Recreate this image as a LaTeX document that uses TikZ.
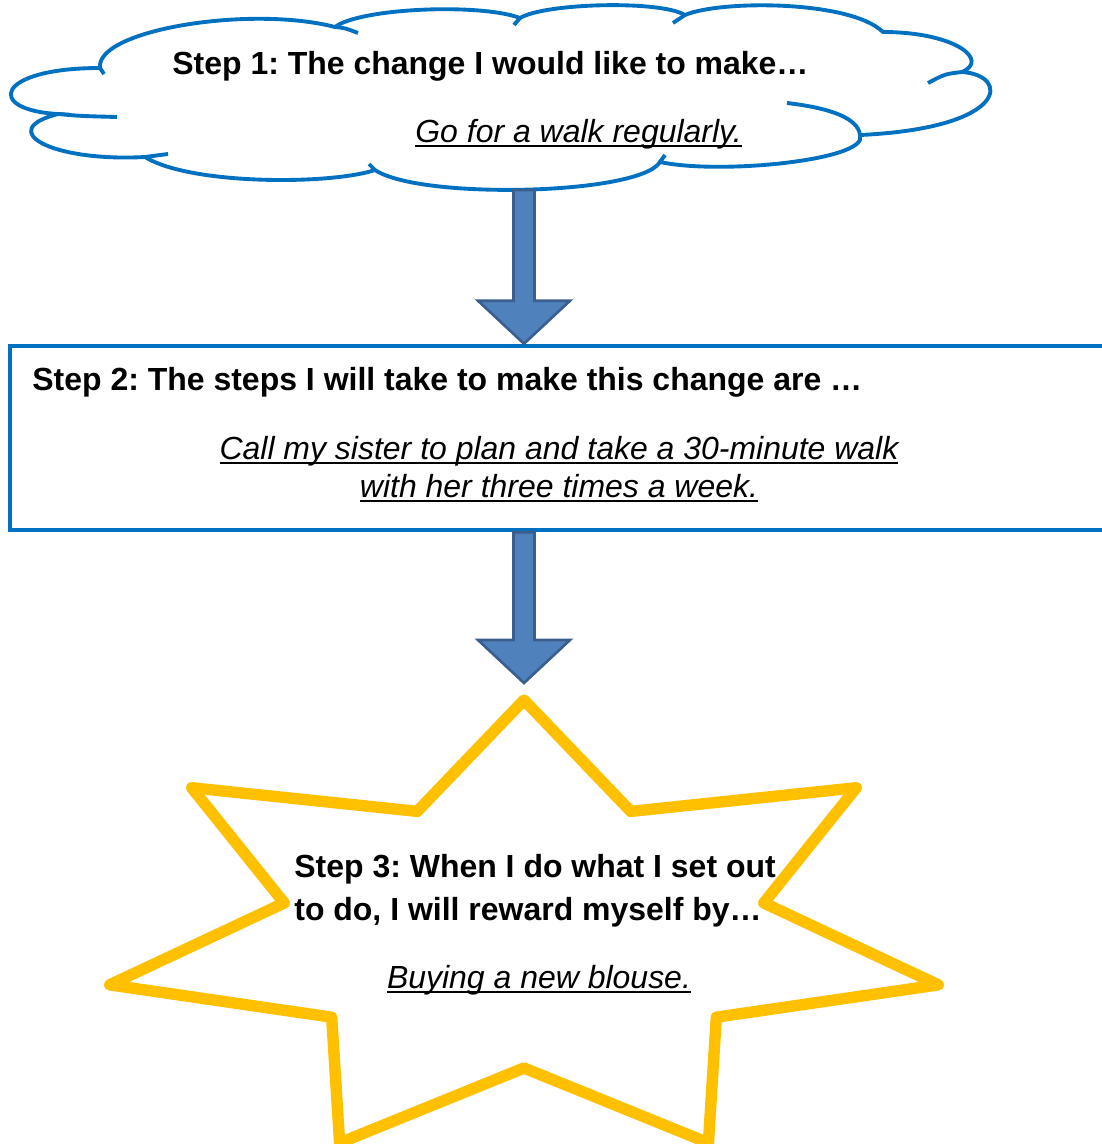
\documentclass[tikz,border=0pt]{standalone}
\usepackage{fontspec}
\setmainfont{Liberation Sans}
\usetikzlibrary{calc}
\definecolor{bluebox}{HTML}{0070C0}
\definecolor{arrowfill}{HTML}{4F81BD}
\definecolor{arrowline}{HTML}{3A5F8E}
\definecolor{stargold}{HTML}{FFC000}
\newcommand{\uword}[1]{\setbox0=\hbox{#1}\leavevmode\rlap{\rule[-2.6pt]{\wd0}{1.1pt}}\box0}
\frenchspacing

\begin{document}
\begin{tikzpicture}[x=0.02cm, y=-0.02cm,
  title/.style={font=\bfseries\fontsize{18.2}{24}\selectfont, inner sep=0, anchor=base west},
  answer/.style={font=\itshape\fontsize{18.2}{21.5}\selectfont, inner sep=0, align=center, anchor=base},
  cloudline/.style={draw=bluebox, line width=2.2pt},
  stepbox/.style={draw=bluebox, line width=2.6pt, minimum width=22.08cm, minimum height=3.68cm, inner sep=0},
  starline/.style={draw=stargold, line width=6.5pt, line join=round},
  blockarrow/.style={fill=arrowfill, draw=arrowline, line width=1.5pt}
]
  \clip (0,0) rectangle (1102,1144);

  \draw[cloudline, fill=white] (100,68) .. controls (95,30) and (250,5) .. (335,27)
    .. controls (360,8) and (480,3) .. (520,18)
    .. controls (545,3) and (660,0) .. (685,15)
    .. controls (720,0) and (850,0) .. (883,32)
    .. controls (955,32) and (990,60) .. (962,72)
    .. controls (1010,75) and (1010,128) .. (860,135)
    .. controls (870,160) and (720,175) .. (660,162)
    .. controls (640,195) and (420,200) .. (375,170)
    .. controls (330,185) and (190,185) .. (145,157)
    .. controls (50,162) and (-5,130) .. (58,114)
    .. controls (-15,110) and (-5,68) .. (100,68) -- cycle;
  \draw[cloudline] (100,68) -- (104,74)
    (335,27) .. controls (345,28) .. (358,33)
    (520,18) -- (514,25)
    (685,15) -- (673,23)
    (962,72) .. controls (945,74) .. (928,83)
    (860,135) .. controls (858,118) and (830,108) .. (787,103)
    (660,162) -- (665,155)
    (375,170) -- (369,164)
    (145,157) -- (168,154)
    (58,114) .. controls (80,116) .. (117,117);

  \node[stepbox] (box) at (562,438) {};

  \begin{scope}[shift={(524,933)}]
    \draw[starline, fill=white] (-90:425 and 233)
      \foreach \i in {0,...,6} { -- ({-90+\i*360/7+360/14}:246 and 135) -- ({-90+(\i+1)*360/7}:425 and 233) } -- cycle;
  \end{scope}

  \coordinate (cloudbot) at (524,190);
  \coordinate (starup) at (524,683);
  \path (cloudbot |- box.north) coordinate (a1tip)
        (cloudbot |- box.south) coordinate (a2top);

  \foreach \a/\b in {cloudbot/a1tip, a2top/starup}
    \draw[blockarrow] let \p1=(\a), \p2=(\b) in
      (\x1-0.21cm,\y1) -- (\x1-0.21cm,\y2+0.86cm) -- (\x1-0.92cm,\y2+0.86cm) -- (\x1,\y2)
      -- (\x1+0.92cm,\y2+0.86cm) -- (\x1+0.21cm,\y2+0.86cm) -- (\x1+0.21cm,\y1) -- cycle;

  \node[title] (t1) at (172,74) {Step 1: The change I would like to make…};
  \node[answer, anchor=base west] (a1) at (415,142) {\uword{Go for a walk regularly.}};
  \node[title] (t2) at (32,390) {Step 2: The steps I will take to make this change are …};
  \node[answer] (a2) at (559,497) {\uword{Call my sister to plan and take a 30-minute walk}\\\uword{with her three times a week.}};
  \node[title, align=left] (t3) at (294,920) {Step 3: When I do what I set out\\to do, I will reward myself by…};
  \node[answer] (a3) at (539,988) {\uword{Buying a new blouse.}};
\end{tikzpicture}
\end{document}
